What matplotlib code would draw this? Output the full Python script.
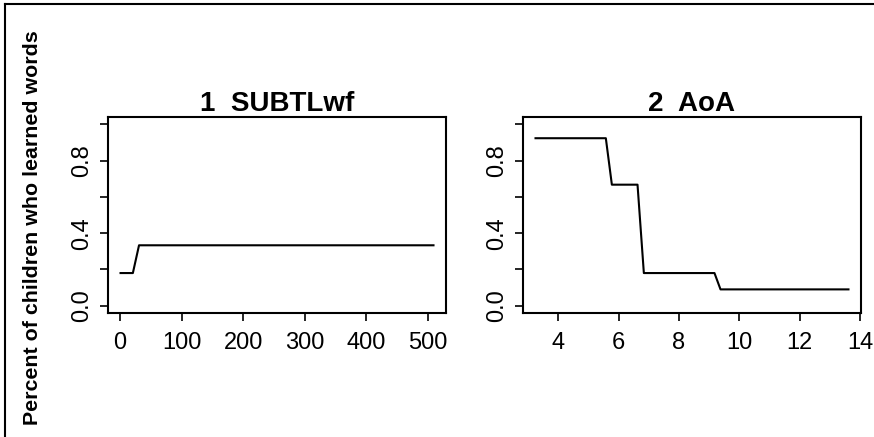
import matplotlib
matplotlib.use("Agg")
from matplotlib import pyplot as plt
from matplotlib.lines import Line2D

# panel 1: SUBTLwf
subtl_x = [1, 21, 31, 509]
subtl_y = [0.18, 0.18, 0.333, 0.333]

# panel 2: AoA
aoa_x = [3.25, 5.58, 5.78, 6.63, 6.84, 9.18, 9.38, 13.62]
aoa_y = [0.923, 0.923, 0.667, 0.667, 0.18, 0.18, 0.09, 0.09]

titles = ["1  SUBTLwf", "2  AoA"]
y_ticks = [0.0, 0.2, 0.4, 0.6, 0.8, 1.0]
y_ticklabels = ["0.0", "", "0.4", "", "0.8", ""]
x_ticks = [[0, 100, 200, 300, 400, 500], [4, 6, 8, 10, 12, 14]]
ylabel = "Percent of children who learned words"

plt.rcParams["font.family"] = ["Liberation Sans", "DejaVu Sans"]

fig = plt.figure(figsize=(8.74, 4.37), dpi=100)
fig.patch.set_facecolor("white")

positions = [[0.1236, 0.2838, 0.3867, 0.4485], [0.5984, 0.2838, 0.3867, 0.4485]]
data = [(subtl_x, subtl_y), (aoa_x, aoa_y)]

for i in range(2):
    ax = fig.add_axes(positions[i])
    xs, ys = data[i]
    ax.plot(xs, ys, color="black", linewidth=1.5)
    ax.margins(x=0.04)
    ax.set_ylim(-0.04, 1.04)
    ax.set_yticks(y_ticks)
    ax.set_yticklabels(y_ticklabels, rotation=90, va="center")
    ax.set_xticks(x_ticks[i])
    ax.tick_params(axis="both", direction="out", length=5.5, width=1.2,
                   labelsize=17, colors="black")
    ax.tick_params(axis="x", pad=8.5)
    ax.tick_params(axis="y", pad=5)
    for s in ax.spines.values():
        s.set_linewidth(1.5)
    ax.set_title(titles[i], fontsize=20, fontweight="bold", pad=4)

fig.text(0.037, 0.48, ylabel, rotation=90, fontsize=15.4, fontweight="bold",
         ha="center", va="center")

# outer frame (top and left only visible)
fig.add_artist(Line2D([0.0057, 1.0], [0.9908, 0.9908], color="black",
                      linewidth=1.5, transform=fig.transFigure))
fig.add_artist(Line2D([0.0057, 0.0057], [0.0, 0.9908], color="black",
                      linewidth=1.5, transform=fig.transFigure))

fig.savefig("out.png", dpi=100)
